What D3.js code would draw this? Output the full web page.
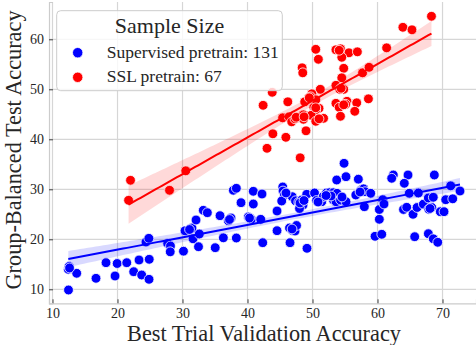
<!DOCTYPE html>
<html>
<head>
<meta charset="utf-8">
<script src="https://cdn.jsdelivr.net/npm/d3@7"></script>
<style>
  body { margin: 0; background: #fff; }
  svg text { font-family: "Liberation Serif", "DejaVu Serif", serif; fill: #262626; }
</style>
</head>
<body>
<div id="main"></div>
<script>
// Supervised pretrain (blue), 131 runs
const supervisedX = [12.43, 12.54, 13.72, 12.46, 16.69, 18.23, 19.62, 19.95, 21.42, 22.49,
  23.31, 23.72, 24.88, 24.85, 24.38, 24.82, 27.72, 28.15, 28.11, 30.15,
  30.38, 31.46, 31.08, 31.62, 32.08, 32.46, 32.58, 33.2, 33.82, 35.03,
  35.77, 36.28, 37.05, 37.46, 37.82, 38.28, 38.28, 39.0, 40.12, 40.58,
  40.89, 40.89, 42.03, 42.23, 42.34, 44.54, 44.54, 45.42, 45.46, 45.66,
  45.26, 46.46, 46.92, 47.31, 47.54, 46.54, 46.88, 47.38, 47.89, 48.34,
  48.54, 48.0, 49.11, 49.15, 50.31, 50.62, 51.42, 51.66, 52.15, 52.62,
  53.2, 53.77, 53.2, 53.62, 54.31, 55.15, 54.85, 53.72, 55.15, 57.05,
  56.66, 57.42, 57.85, 58.08, 58.95, 57.97, 59.62, 60.65, 60.28, 60.28,
  60.8, 61.0, 62.43, 62.18, 64.69, 64.12, 64.89, 66.28, 64.0, 64.49,
  65.46, 66.08, 67.05, 67.82, 68.58, 67.89, 68.34, 68.74, 65.72, 67.82,
  68.58, 69.26, 69.66, 70.23, 70.49, 71.57, 71.26, 72.69, 48.08, 48.69,
  50.85, 52.85, 54.54, 52.08, 45.92, 37.23, 40.31, 46.85, 57.31, 68.08,
  12.62];
const supervisedY = [14.0, 14.56, 13.2, 9.86, 12.2, 15.32, 12.66, 15.16, 15.32, 13.52,
  15.86, 12.86, 16.0, 12.0, 19.46, 20.2, 19.16, 18.66, 17.5, 17.62,
  21.7, 22.26, 21.96, 20.1, 23.86, 18.52, 21.06, 25.8, 25.32, 18.32,
  24.72, 20.3, 23.72, 24.26, 29.8, 30.2, 20.26, 27.32, 24.46, 24.02,
  29.6, 27.06, 24.0, 29.06, 19.32, 25.66, 21.72, 30.46, 29.66, 28.86,
  27.66, 22.26, 21.76, 21.66, 22.76, 19.32, 28.52, 27.7, 27.42, 27.86,
  26.86, 26.16, 29.0, 18.2, 29.26, 27.76, 27.52, 28.56, 29.26, 29.32,
  29.32, 29.2, 27.86, 27.52, 27.86, 27.52, 35.2, 31.86, 32.52, 32.02,
  28.86, 29.76, 30.1, 29.52, 29.2, 26.52, 20.6, 21.0, 24.0, 25.96,
  27.92, 27.06, 32.86, 32.2, 32.86, 31.2, 29.2, 29.26, 25.96, 26.4,
  25.0, 26.36, 27.02, 28.26, 28.4, 26.0, 26.36, 32.86, 20.52, 21.12,
  20.1, 19.4, 25.52, 25.52, 27.92, 28.1, 30.7, 29.66, 27.26, 27.76,
  27.46, 28.66, 28.46, 28.76, 29.26, 23.96, 24.26, 22.06, 29.46, 26.16,
  14.26];

// SSL pretrain (red), 67 runs
const sslX = [68.3, 63.9, 65.3, 61.4, 53.6, 54.3, 55.6, 56.9, 54.5, 50.5,
  50.9, 54.8, 57.7, 58.7, 54.5, 53.6, 54.5, 54.8, 54.2, 51.2,
  48.4, 48.5, 58.6, 55.3, 55.1, 53.6, 54.1, 56.8, 56.5, 54.3,
  51.7, 51.0, 50.2, 50.5, 49.9, 49.7, 50.5, 49.4, 48.8, 46.2,
  43.8, 42.4, 45.4, 46.4, 46.8, 47.3, 48.6, 48.6, 49.8, 50.5,
  51.0, 45.9, 49.0, 43.9, 43.0, 48.1, 22.0, 21.7, 28.0, 30.5,
  49.5, 54.4, 50.5, 47.5, 48.7, 54.8, 54.1];
const sslY = [64.6, 62.4, 61.9, 58.3, 57.9, 58.1, 57.3, 57.5, 56.4, 58.0,
  56.0, 54.2, 53.3, 54.4, 52.3, 50.8, 50.3, 50.0, 50.0, 50.0,
  54.3, 53.3, 48.1, 47.6, 47.0, 47.2, 46.4, 47.3, 45.6, 44.6,
  44.2, 46.2, 46.4, 45.9, 49.1, 48.5, 47.9, 48.1, 47.5, 47.5,
  49.4, 46.8, 44.3, 44.5, 43.5, 44.1, 44.9, 44.0, 44.8, 43.6,
  44.1, 40.4, 41.7, 41.1, 38.2, 36.3, 31.8, 27.8, 29.8, 33.7,
  48.3, 50.2, 46.3, 44.4, 44.5, 46.9, 57.8];

const xTicks = [10, 20, 30, 40, 50, 60, 70];
const yTicks = [10, 20, 30, 40, 50, 60];

const series = [
  { label: "Supervised pretrain: 131", xs: supervisedX, ys: supervisedY, color: "#0000ff" },
  { label: "SSL pretrain: 67", xs: sslX, ys: sslY, color: "#ff0000" }
];

const width = 476;
const height = 345;
const plotLeft = 49, plotRight = 476, plotTop = 2, plotBottom = 303.3;

const svg = d3.select("#main")
  .append("svg")
  .attr("width", width)
  .attr("height", height);

const x = d3.scaleLinear().domain([9.46, 75.15]).range([plotLeft, plotRight]);
const y = d3.scaleLinear().domain([7.2, 67.46]).range([plotBottom, plotTop]);

// grid
svg.append("g")
  .selectAll("line")
  .data(xTicks)
  .join("line")
  .attr("x1", d => x(d)).attr("x2", d => x(d))
  .attr("y1", plotTop).attr("y2", plotBottom)
  .attr("stroke", "#d6d6d6")
  .attr("stroke-width", 1.2);

svg.append("g")
  .selectAll("line")
  .data(yTicks)
  .join("line")
  .attr("x1", plotLeft).attr("x2", plotRight)
  .attr("y1", d => y(d)).attr("y2", d => y(d))
  .attr("stroke", "#d6d6d6")
  .attr("stroke-width", 1.2);

// axes
const xAxis = svg.append("g")
  .attr("transform", "translate(0," + plotBottom + ")")
  .call(d3.axisBottom(x).tickValues(xTicks).tickSize(-4).tickPadding(5));
const yAxis = svg.append("g")
  .attr("transform", "translate(" + plotLeft + ",0)")
  .call(d3.axisLeft(y).tickValues(yTicks).tickSize(-4).tickPadding(5));

[xAxis, yAxis].forEach(ax => {
  ax.select(".domain").attr("stroke", "#cccccc").attr("stroke-width", 1.2);
  ax.selectAll(".tick line").attr("stroke", "#444").attr("stroke-width", 1);
  ax.selectAll(".tick text")
    .attr("font-size", 14)
    .attr("font-family", "Liberation Serif")
    .attr("fill", "#262626");
});

// scatter points
series.forEach(s => {
  svg.append("g")
    .selectAll("circle")
    .data(d3.range(s.xs.length))
    .join("circle")
    .attr("cx", i => x(s.xs[i]))
    .attr("cy", i => y(s.ys[i]))
    .attr("r", 4.9)
    .attr("fill", s.color)
    .attr("stroke", "white")
    .attr("stroke-width", 0.8);
});

// regression lines with 95% band
series.forEach(s => {
  const n = s.xs.length;
  const mx = d3.mean(s.xs), my = d3.mean(s.ys);
  const sxx = d3.sum(s.xs, v => (v - mx) * (v - mx));
  const sxy = d3.sum(s.xs, (v, i) => (v - mx) * (s.ys[i] - my));
  const slope = sxy / sxx;
  const icpt = my - slope * mx;
  const resid = d3.sum(s.xs, (v, i) => Math.pow(s.ys[i] - (icpt + slope * v), 2));
  const se = Math.sqrt(resid / (n - 2));
  const [x0, x1] = d3.extent(s.xs);
  const grid = d3.range(0, 101).map(k => x0 + (x1 - x0) * k / 100);
  const band = grid.map(v => {
    const h = 1.98 * se * Math.sqrt(1 / n + (v - mx) * (v - mx) / sxx);
    const m = icpt + slope * v;
    return { v, lo: m - h, hi: m + h, m };
  });

  svg.append("path")
    .datum(band)
    .attr("fill", s.color)
    .attr("fill-opacity", 0.15)
    .attr("d", d3.area().x(d => x(d.v)).y0(d => y(d.lo)).y1(d => y(d.hi)));

  svg.append("path")
    .datum(band)
    .attr("fill", "none")
    .attr("stroke", s.color)
    .attr("stroke-width", 2)
    .attr("d", d3.line().x(d => x(d.v)).y(d => y(d.m)));
});

// axis labels
svg.append("text")
  .attr("x", 264)
  .attr("y", 341)
  .attr("text-anchor", "middle")
  .attr("font-size", 22.3)
  .text("Best Trial Validation Accuracy");

svg.append("text")
  .attr("transform", "translate(21,150) rotate(-90)")
  .attr("text-anchor", "middle")
  .attr("font-size", 22.3)
  .text("Group-Balanced Test Accuracy");

// legend
const legend = svg.append("g").attr("id", "legend");
legend.append("rect")
  .attr("x", 56.7).attr("y", 10.7)
  .attr("width", 225.6).attr("height", 80)
  .attr("rx", 4)
  .attr("fill", "white").attr("fill-opacity", 0.8)
  .attr("stroke", "#cccccc").attr("stroke-width", 1);

legend.append("text")
  .attr("x", 169.5).attr("y", 32.5)
  .attr("text-anchor", "middle")
  .attr("font-size", 22)
  .text("Sample Size");

series.forEach((s, i) => {
  legend.append("circle")
    .attr("cx", 77.7).attr("cy", 52.7 + i * 24.6)
    .attr("r", 5.2)
    .attr("fill", s.color)
    .attr("stroke", "white")
    .attr("stroke-width", 0.8);
  legend.append("text")
    .attr("x", 106.7).attr("y", 57.8 + i * 24.4)
    .attr("font-size", 17.5)
    .text(s.label);
});
</script>
</body>
</html>
